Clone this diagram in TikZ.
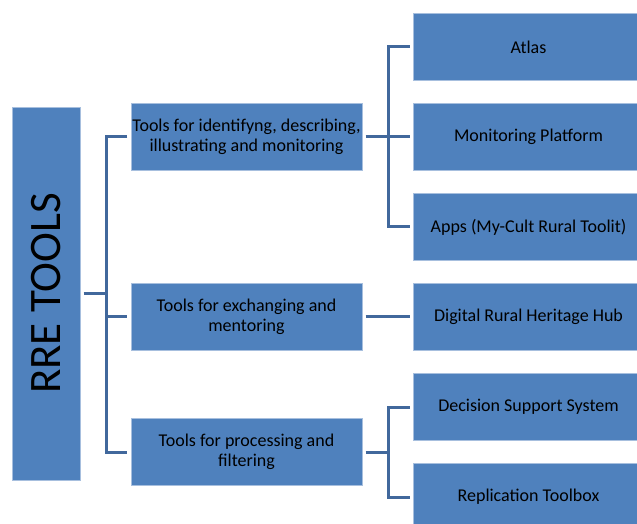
\documentclass[tikz,border=0pt]{standalone}
\usepackage{fontspec}
\setmainfont{Carlito}
\usetikzlibrary{positioning,calc}

\definecolor{boxblue}{HTML}{4F81BD}
\definecolor{boxedge}{HTML}{A7BFDE}
\definecolor{linkblue}{HTML}{41689C}

\begin{document}
\begin{tikzpicture}[x=1bp, y=1bp, node distance={15.5bp},
    tool/.style = {draw=boxedge, line width=0.75bp, fill=boxblue, outer sep=3.5bp,
        minimum width=231bp, minimum height=67.5bp, align=center, inner xsep=0bp,
        font=\fontsize{18bp}{20.5bp}\selectfont},
    rootbox/.style = {tool, minimum width=67.5bp, minimum height=373bp,
        font=\fontsize{45bp}{54bp}\selectfont},
    link/.style = {draw=linkblue, line width=3bp, miter limit=10} ]
        \useasboundingbox (0,0) rectangle (637,524);
        \clip (0,0) rectangle (637,524);

        \node[tool] (atlas) at (528.5,477) {Atlas};
        \node[tool] (mon) [below = of atlas] {Monitoring Platform};
        \node[tool] (apps) [below = of mon] {Apps (My-Cult Rural Toolit)};
        \node[tool] (hub) [below = of apps] {Digital Rural Heritage Hub};
        \node[tool] (dss) [below = of hub] {Decision Support System};
        \node[tool] (repl) [below = of dss] {Replication Toolbox};
        \coordinate (dsmid) at ($(dss.west)!0.5!(repl.west)$);

        \node[tool] (mid1) [left = 44bp of mon] {Tools for identifyng, describing,\\illustrating and monitoring};
        \node[tool] (mid2) [left = 44bp of hub] {Tools for exchanging and\\mentoring};
        \node[tool] (mid3) [left = 44bp of dsmid] {Tools for processing and\\filtering};

        \node[rootbox] (root) at (46.25,230.5) {\rotatebox{90}{RRE TOOLS}};

        \coordinate (lbus) at ($(root.east)+(22.5bp,0)$);
        \coordinate (rbus1) at ($(mid1.east)+(22.5bp,0)$);
        \coordinate (rbus3) at ($(mid3.east)+(22.5bp,0)$);

        \draw[link] (root.east) -- (lbus);
        \draw[link] (mid1.west) -| (lbus) |- (mid3.west);
        \draw[link] (lbus |- mid2.west) -- (mid2.west);
        \draw[link] (atlas.west) -| (rbus1) |- (apps.west);
        \draw[link] (mid1.east) -- (mon.west);
        \draw[link] (mid2.east) -- (hub.west);
        \draw[link] (mid3.east) -- (rbus3);
        \draw[link] (dss.west) -| (rbus3) |- (repl.west);

    \end{tikzpicture}
\end{document}
